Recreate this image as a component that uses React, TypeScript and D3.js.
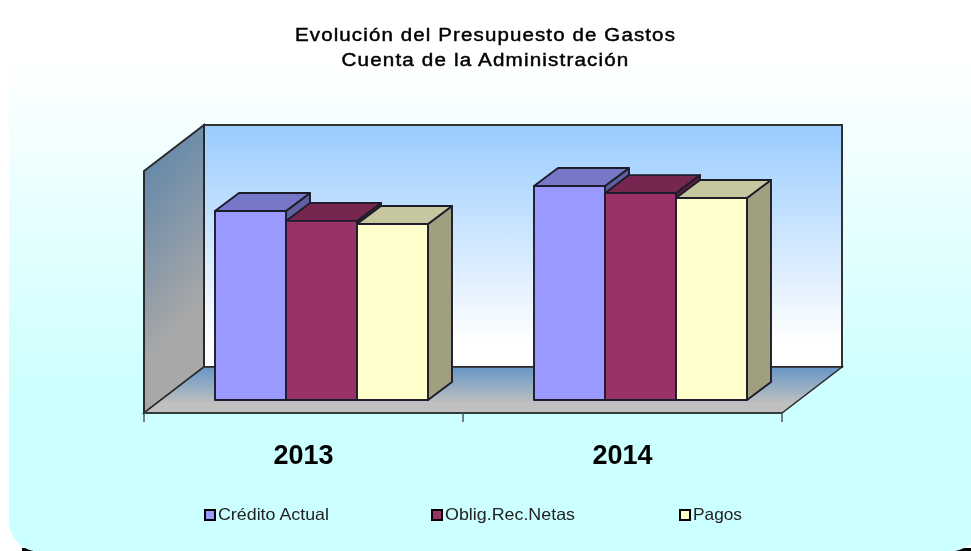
import React from 'react'
import * as d3 from 'd3'

const years = ['2013', '2014']
const seriesNames = ['Crédito Actual', 'Oblig.Rec.Netas', 'Pagos']
const creditoActual = [78.1, 88.4]
const obligRecNetas = [74, 85.5]
const pagos = [72.7, 83.5]
const seriesValues = [creditoActual, obligRecNetas, pagos]
const seriesColors = ['#9999ff', '#993366', '#ffffcc']
const titleLines = [
  { text: 'Evolución del Presupuesto de Gastos', width: 381 },
  { text: 'Cuenta de la Administración', width: 288 },
]
const legendX = [204, 431, 679]
const legendWidths = [111, 130, 49]

const width = 971
const height = 551
const FONT = '"Liberation Sans", Arial, sans-serif'
const EDGE = '#1d1d2b'

// floor plane in the front, the back wall sits wallDx/wallDy behind it
const plot = { left: 144, right: 782, bottom: 413, top: 171 }
const wallDx = 60
const wallDy = 46
const barDx = 24
const barDy = 18

const xYear = d3.scaleBand().domain(years).range([plot.left, plot.right])
const xSeries = d3.scaleBand().domain(seriesNames).range([-106.5, 106.5])
const yValue = d3.scaleLinear().domain([0, 100]).range([400, 158])

const pts = (list: number[][]) => list.map((p) => p.join(',')).join(' ')

const panelPath = () => {
  const p = d3.path()
  p.moveTo(9, 0)
  p.lineTo(1000, 0)
  p.lineTo(1000, 493)
  p.arc(940, 493, 60, 0, Math.PI / 2)
  p.lineTo(39, 553)
  p.arc(39, 521.5, 30, Math.PI / 2, Math.PI)
  p.closePath()
  return p.toString()
}

const App = () => {
  const backX0 = plot.left + wallDx
  const backX1 = plot.right + wallDx
  const backY0 = plot.top - wallDy
  const backY1 = plot.bottom - wallDy

  return (
    <svg
      width={width}
      height={height}
      style={{ position: 'absolute', left: 0, top: 0, display: 'block' }}
    >
      <defs>
        <linearGradient id='panel' x1='0' y1='0' x2='0' y2='1'>
          <stop offset='0.1' stopColor='#ffffff' />
          <stop offset='0.72' stopColor='#ccffff' />
          <stop offset='1' stopColor='#ccffff' />
        </linearGradient>
        <linearGradient id='back' x1='0' y1='0' x2='0' y2='1'>
          <stop offset='0' stopColor='#99ccff' />
          <stop offset='0.9' stopColor='#ffffff' />
          <stop offset='1' stopColor='#ffffff' />
        </linearGradient>
        <linearGradient id='side' x1='0' y1='0' x2='0.25' y2='1'>
          <stop offset='0.08' stopColor='#5f86aa' />
          <stop offset='0.8' stopColor='#a8a8a8' />
          <stop offset='1' stopColor='#a8a8a8' />
        </linearGradient>
        <linearGradient id='floor' x1='0' y1='0' x2='0' y2='1'>
          <stop offset='0' stopColor='#6696c6' />
          <stop offset='0.8' stopColor='#c0c0c0' />
        </linearGradient>
        <filter id='soft' x='-2%' y='-2%' width='104%' height='104%'>
          <feGaussianBlur stdDeviation='0.45' />
        </filter>
      </defs>

      <rect width={width} height={height} fill='#ffffff' />
      <rect x={22} y={548} width={width} height={4} fill='#000000' />
      <path d={panelPath()} fill='url(#panel)' />

      <g filter='url(#soft)'>
        <rect
          x={backX0}
          y={backY0}
          width={backX1 - backX0}
          height={backY1 - backY0}
          fill='url(#back)'
          stroke='#333333'
          strokeWidth={2}
        />
        <polygon
          points={pts([
            [plot.left, plot.top],
            [backX0, backY0],
            [backX0, backY1],
            [plot.left, plot.bottom],
          ])}
          fill='url(#side)'
          stroke='#2b2b2b'
          strokeWidth={2}
        />
        <polygon
          points={pts([
            [plot.left, plot.bottom],
            [plot.right, plot.bottom],
            [backX1, backY1],
            [backX0, backY1],
          ])}
          fill='url(#floor)'
          stroke='#2b2b2b'
          strokeWidth={1.5}
        />
        <line
          x1={plot.left}
          x2={plot.right}
          y1={plot.bottom}
          y2={plot.bottom}
          stroke='#333b3b'
          strokeWidth={2}
        />

        {[plot.left, plot.left + xYear.step(), plot.right].map((x) => (
          <line
            key={x}
            x1={x}
            x2={x}
            y1={plot.bottom}
            y2={plot.bottom + 9}
            stroke='#555555'
            strokeWidth={1.5}
          />
        ))}

        {years.map((year, i) => {
          const center = (xYear(year) as number) + xYear.bandwidth() / 2
          return (
            <g key={year}>
              {seriesNames.map((name, s) => {
                const x0 = center + barDx * 0.75 + (xSeries(name) as number)
                const x1 = x0 + xSeries.bandwidth()
                const y0 = yValue(seriesValues[s][i])
                const y1 = yValue(0)
                const base = d3.color(seriesColors[s]) as d3.RGBColor
                return (
                  <g key={name} stroke={EDGE} strokeWidth={1.9} strokeLinejoin='round'>
                    <polygon
                      points={pts([
                        [x1, y0],
                        [x1 + barDx, y0 - barDy],
                        [x1 + barDx, y1 - barDy],
                        [x1, y1],
                      ])}
                      fill={base.darker(1.3).formatHex()}
                    />
                    <polygon
                      points={pts([
                        [x0, y0],
                        [x0 + barDx, y0 - barDy],
                        [x1 + barDx, y0 - barDy],
                        [x1, y0],
                      ])}
                      fill={base.darker(0.7).formatHex()}
                    />
                    <rect
                      x={x0}
                      y={y0}
                      width={x1 - x0}
                      height={y1 - y0}
                      fill={seriesColors[s]}
                    />
                  </g>
                )
              })}
              <text
                x={center}
                y={464}
                textAnchor='middle'
                textLength={60}
                lengthAdjust='spacingAndGlyphs'
                fontFamily={FONT}
                fontSize={27}
                fontWeight='bold'
                fill='#000000'
              >
                {year}
              </text>
            </g>
          )
        })}

        {titleLines.map((line, i) => (
          <text
            key={line.text}
            x={485.5}
            y={41 + i * 25}
            textAnchor='middle'
            textLength={line.width}
            lengthAdjust='spacingAndGlyphs'
            letterSpacing={1}
            fontFamily={FONT}
            fontSize={18}
            fill='#000000'
            stroke='#000000'
            strokeWidth={0.45}
          >
            {line.text}
          </text>
        ))}

        {seriesNames.map((name, s) => (
          <g key={name}>
            <rect
              x={legendX[s] + 1}
              y={510}
              width={10}
              height={10}
              fill={seriesColors[s]}
              stroke='#000000'
              strokeWidth={2}
            />
            <text
              x={legendX[s] + 14}
              y={520}
              textLength={legendWidths[s]}
              lengthAdjust='spacingAndGlyphs'
              fontFamily={FONT}
              fontSize={16.5}
              fill='#222222'
            >
              {name}
            </text>
          </g>
        ))}
      </g>
    </svg>
  )
}

export default App
